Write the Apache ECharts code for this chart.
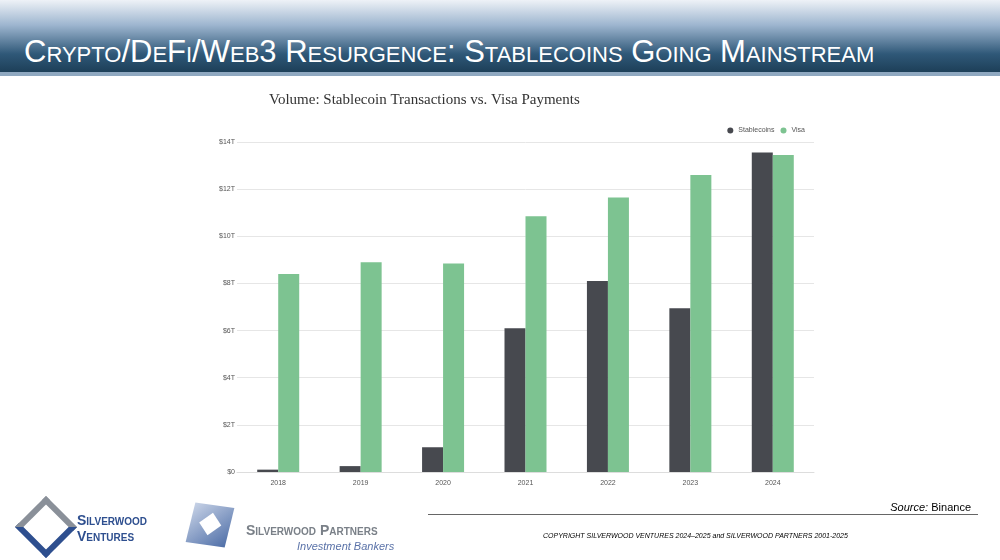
<!DOCTYPE html>
<html>
<head>
<meta charset="utf-8">
<script src="https://cdn.jsdelivr.net/npm/echarts@6/dist/echarts.min.js"></script>
<style>
  body { margin: 0; width: 1000px; height: 560px; position: relative; background: #fff; overflow: hidden; font-family: "Liberation Sans", Arial, sans-serif; }
  #header { position: absolute; left: 0; top: 0; width: 1000px; height: 72px;
    background: linear-gradient(to bottom, #eef2f7 0%, #9db5cf 35%, #2f5878 75%, #1d3f58 100%); }
  #header .rule { position: absolute; left: 0; top: 72px; width: 1000px; height: 4px; background: #8fa8c0; }
  #header h1 { position: absolute; left: 24px; top: 34px; margin: 0; color: #fff; font-weight: normal;
    font-family: "Liberation Sans Narrow", "Liberation Sans", Arial, sans-serif; font-size: 31px; font-variant: small-caps; }
  #chart { position: absolute; left: 0; top: 0; width: 1000px; height: 560px; }
  #source { position: absolute; right: 29px; top: 501px; font-size: 11px; color: #000; }
  #footrule { position: absolute; left: 428px; top: 514px; width: 550px; height: 1px; background: #666; }
  #copy { position: absolute; left: 543px; top: 532px; font-size: 7px; font-style: italic; color: #000; }
  .logo1 { position: absolute; left: 24px; top: 505px; width: 32px; height: 32px; transform: rotate(45deg);
    border: 6px solid #2e4f8f; border-left-color: #8a9099; border-top-color: #8a9099; }
  .l1t { position: absolute; left: 77px; top: 512px; color: #2e4f8f; font-weight: bold; font-size: 14px; font-variant: small-caps; line-height: 16px; }
  .logo2 { position: absolute; left: 190px; top: 505px; width: 40px; height: 40px; transform: skew(-6deg) rotate(8deg);
    background: linear-gradient(135deg, #c7d2e6, #4f6fa8); }
  .logo2 i { position: absolute; left: 12px; top: 11px; width: 16px; height: 16px; background: #fff; transform: rotate(45deg); }
  .l2t { position: absolute; left: 246px; top: 522px; color: #7a8088; font-weight: bold; font-size: 14px; font-variant: small-caps; }
  .l2s { position: absolute; left: 297px; top: 540px; color: #5a72a8; font-style: italic; font-size: 11px; }
</style>
</head>
<body>
<div id="header"><h1>Crypto/DeFi/Web3 Resurgence: Stablecoins Going Mainstream</h1><div class="rule"></div></div>
<div id="chart"></div>
<div id="source"><i>Source:</i> Binance</div>
<div id="footrule"></div>
<div id="copy">COPYRIGHT SILVERWOOD VENTURES 2024–2025 and SILVERWOOD PARTNERS 2001-2025</div>
<div class="logo1"></div><div class="l1t">Silverwood<br>Ventures</div>
<div class="logo2"><i></i></div><div class="l2t">Silverwood Partners</div><div class="l2s">Investment Bankers</div>
<script>
const years = ['2018', '2019', '2020', '2021', '2022', '2023', '2024'];
const stablecoins = [0.1, 0.25, 1.05, 6.1, 8.1, 6.95, 13.55];
const visa = [8.4, 8.9, 8.85, 10.85, 11.65, 12.6, 13.45];

const chart = echarts.init(document.getElementById('chart'));
chart.setOption({
  animation: false,
  title: {
    text: 'Volume: Stablecoin Transactions vs. Visa Payments',
    left: 264, top: 88,
    textStyle: { fontFamily: 'Liberation Serif', fontSize: 15, fontWeight: 'normal', color: '#333' }
  },
  legend: {
    right: 190, top: 122, itemWidth: 6, itemHeight: 6, itemGap: 6, icon: 'circle',
    textStyle: { fontSize: 7, color: '#555' },
    data: ['Stablecoins', 'Visa']
  },
  grid: { left: 237, right: 186, top: 142, bottom: 88 },
  xAxis: {
    type: 'category', data: years,
    axisLine: { lineStyle: { color: '#ddd' } }, axisTick: { show: false },
    axisLabel: { fontSize: 7, color: '#555', margin: 8 }
  },
  yAxis: {
    type: 'value', min: 0, max: 14, interval: 2,
    axisLabel: { fontSize: 7, color: '#555', margin: 2, formatter: v => '$' + (v === 0 ? '0' : v + 'T') },
    splitLine: { lineStyle: { color: '#e6e6e6' } }
  },
  series: [
    { name: 'Stablecoins', type: 'bar', data: stablecoins, barWidth: 21, barGap: '0%', itemStyle: { color: '#47494f' } },
    { name: 'Visa', type: 'bar', data: visa, barWidth: 21, itemStyle: { color: '#7dc391' } }
  ]
});
</script>
</body>
</html>
